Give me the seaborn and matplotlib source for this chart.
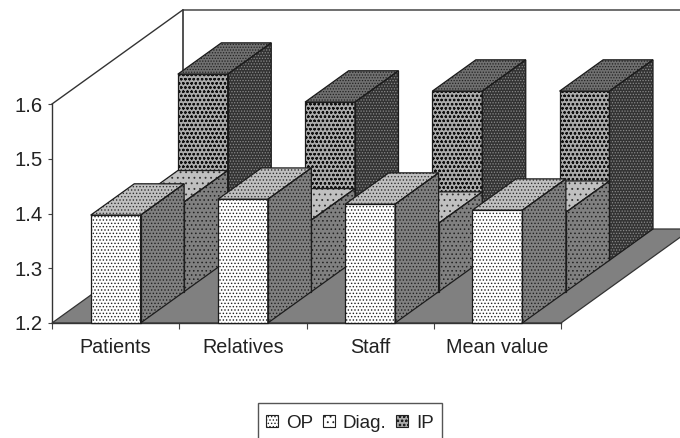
import pandas as pd
import matplotlib
matplotlib.use("Agg")
import matplotlib.pyplot as plt
from matplotlib.patches import Polygon, Patch, Rectangle
import seaborn as sns

categories = ["Patients", "Relatives", "Staff", "Mean value"]
series = ["OP", "Diag.", "IP"]
op_values = [1.397, 1.426, 1.417, 1.406]
diag_values = [1.364, 1.331, 1.325, 1.345]
ip_values = [1.540, 1.489, 1.509, 1.509]
y_ticks = [1.2, 1.3, 1.4, 1.5, 1.6]

# how far the full floor depth shifts things, in data units
DEPTH_X = 1.027
DEPTH_Y = 0.1717
Y_MIN = 1.2
Y_MAX = 1.6
INK = "#1c1c1c"

# fill, hatch, hatch colour for front / side / top of each series
styles = {
    "OP": {"front": ("white", ".....", "#222222"),
           "side": ("#808080", ".....", "#222222"),
           "top": ("#c0c0c0", ".....", "#333333")},
    "Diag.": {"front": ("white", "...", "#222222"),
              "side": ("#808080", "....", "#222222"),
              "top": ("#c0c0c0", "...", "#333333")},
    "IP": {"front": ("#ababab", "oooo", "#111111"),
           "side": ("#333333", "......", "#8a8a8a"),
           "top": ("#707070", "......", "#222222")},
}

df = pd.DataFrame({
    "category": categories * 3,
    "series": [s for s in series for _ in categories],
    "value": op_values + diag_values + ip_values,
})

plt.rcParams["font.family"] = ["Liberation Sans", "DejaVu Sans"]
plt.rcParams["hatch.linewidth"] = 0.6

fig = plt.figure(figsize=(6.8, 4.38), dpi=100)
ax = fig.add_axes([52 / 680, 115 / 438, 509 / 680, 219 / 438])

sns.barplot(data=df, x="category", y="value", hue="series", order=categories,
            hue_order=series, dodge=False, width=0.392, saturation=1,
            legend=False, ax=ax)

ax.set_xlim(-0.5, 3.5)
ax.set_ylim(Y_MIN, Y_MAX)
ax.set_xlabel("")
ax.set_ylabel("")
ax.set_yticks(y_ticks)
ax.set_yticklabels([f"{t:.1f}" for t in y_ticks])
ax.set_xticks([-0.5, 0.5, 1.5, 2.5, 3.5], minor=False)
ax.set_xticklabels([])
ax.set_xticks(range(4), categories, minor=True)
ax.tick_params(axis="x", which="minor", length=0, pad=11, labelsize=14.2, labelcolor="#222222")
ax.tick_params(axis="x", which="major", length=4, width=0.8, color="#444444")
ax.tick_params(axis="y", length=3, width=0.8, pad=3.5, labelsize=14.6, labelcolor="#222222", color="#444444")
for name in ["top", "right"]:
    ax.spines[name].set_visible(False)
for name in ["left", "bottom"]:
    ax.spines[name].set_color("#333333")
    ax.spines[name].set_linewidth(1.0)
ax.patch.set_visible(False)


def project(x, y, depth):
    return (x + depth * DEPTH_X, y + depth * DEPTH_Y)


def face(verts, style, z):
    fc, hatch, hc = style
    ax.add_patch(Polygon(verts, closed=True, facecolor=fc, edgecolor=hc, hatch=hatch,
                         linewidth=0, clip_on=False, zorder=z))
    ax.add_patch(Polygon(verts, closed=True, fill=False, edgecolor=INK, linewidth=0.9,
                         clip_on=False, zorder=z + 0.01))


# floor and the walls behind it
x0, x1 = ax.get_xlim()
floor = [project(x0, Y_MIN, 0), project(x1, Y_MIN, 0), project(x1, Y_MIN, 1), project(x0, Y_MIN, 1)]
ax.add_patch(Polygon(floor, closed=True, facecolor="#808080", edgecolor="#333333",
                     linewidth=0.9, clip_on=False, zorder=1))
wall_x, wall_y = zip(project(x0, Y_MAX, 0), project(x0, Y_MAX, 1), project(x1, Y_MAX, 1))
ax.plot(wall_x, wall_y, color="#333333", lw=1.0, clip_on=False, zorder=0.5)
back_x, back_y = zip(project(x0, Y_MIN, 1), project(x0, Y_MAX, 1))
ax.plot(back_x, back_y, color="#333333", lw=1.2, clip_on=False, zorder=0.5)

# the seaborn bars are the front faces, pushed back row by row
for row, (container, name) in enumerate(zip(ax.containers, series)):
    d0 = row / 3
    d1 = (row + 1) / 3
    z = 5 - row
    st = styles[name]
    for bar in container:
        left = bar.get_x()
        right = left + bar.get_width()
        top = bar.get_height()
        fx, fy = project(left, Y_MIN, d0)
        bar.set_xy((fx, fy))
        bar.set_height(top - Y_MIN)
        bar.set_facecolor(st["front"][0])
        bar.set_edgecolor(st["front"][2])
        bar.set_hatch(st["front"][1])
        bar.set_linewidth(0)
        bar.set_clip_on(False)
        bar.set_zorder(z)
        front = [project(left, Y_MIN, d0), project(right, Y_MIN, d0), project(right, top, d0), project(left, top, d0)]
        ax.add_patch(Polygon(front, closed=True, fill=False, edgecolor=INK, linewidth=0.9,
                             clip_on=False, zorder=z + 0.01))
        face([project(right, Y_MIN, d0), project(right, Y_MIN, d1), project(right, top, d1), project(right, top, d0)],
             st["side"], z)
        face([project(left, top, d0), project(right, top, d0), project(right, top, d1), project(left, top, d1)],
             st["top"], z)

# legend box runs off the bottom of the image in the reference
fig.add_artist(Rectangle((258 / 680, -10 / 438), 184 / 680, 45 / 438, transform=fig.transFigure,
                         facecolor="white", edgecolor="#555555", linewidth=1.0))
handles = [Patch(facecolor=styles[s]["front"][0], edgecolor="#222222",
                 hatch=styles[s]["front"][1], linewidth=0.8) for s in series]
fig.legend(handles, series, loc="center left", bbox_to_anchor=(266 / 680, 15 / 438), ncols=3,
           fontsize=13.6, frameon=False, handlelength=0.65, handleheight=0.65,
           handletextpad=0.42, columnspacing=0.5, borderpad=0, borderaxespad=0,
           labelcolor="#222222")

fig.savefig("out.png", dpi=100)
